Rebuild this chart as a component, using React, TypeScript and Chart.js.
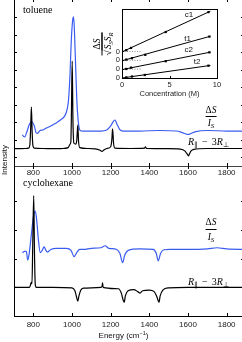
import React, { useEffect, useRef } from 'react';
import { Chart, registerables } from 'chart.js';
Chart.register(...registerables);

// ---------- data ----------
const xTickValues = [800, 1000, 1200, 1400, 1600, 1800];
const topYTickValues = [0, 1, 2, 3, 4, 5, 6, 7, 8];
const bottomYTickValues = [0, 1, 2, 3];

// toluene, R|| - 3R_perp (black)
const tolBlackE = [700, 760, 775, 782, 786, 790, 794, 798, 805, 850, 900, 950, 980, 990, 994, 997, 1001, 1005, 1010, 1020, 1025, 1030, 1034, 1040, 1080, 1120, 1145, 1155, 1165, 1180, 1200, 1206, 1210, 1215, 1222, 1300, 1375, 1380, 1385, 1500, 1560, 1585, 1593, 1598, 1603, 1608, 1615, 1630, 1700, 1800, 1900];
const tolBlackV = [0.49, 0.5, 0.52, 0.7, 1.6, 2.87, 1.4, 0.65, 0.52, 0.5, 0.49, 0.5, 0.55, 0.75, 0.87, 2.5, 5.5, 2.0, 0.8, 0.75, 1.0, 1.84, 0.9, 0.55, 0.5, 0.48, 0.4, 0.33, 0.42, 0.5, 0.6, 1.0, 1.62, 0.8, 0.52, 0.5, 0.52, 0.6, 0.5, 0.49, 0.47, 0.35, 0.22, 0.15, 0.08, 0.2, 0.35, 0.45, 0.5, 0.5, 0.5];
// toluene, dS/I_S (blue)
const tolBlueE = [743, 755, 768, 780, 793, 805, 815, 822, 835, 850, 867, 890, 918, 940, 965, 975, 982, 990, 996, 1003, 1008, 1012, 1016, 1021, 1025, 1031, 1037, 1045, 1055, 1100, 1150, 1180, 1200, 1215, 1223, 1232, 1249, 1270, 1350, 1450, 1540, 1570, 1590, 1601, 1615, 1640, 1700, 1800, 1900];
const tolBlueV = [1.27, 1.16, 1.5, 1.9, 2.03, 1.79, 1.39, 1.37, 1.53, 1.56, 1.67, 1.79, 1.96, 2.13, 2.41, 2.75, 3.27, 4.8, 6.6, 7.8, 8.03, 7.4, 6.13, 4.5, 3.27, 2.2, 1.67, 1.52, 1.5, 1.5, 1.5, 1.56, 1.79, 2.07, 2.13, 1.9, 1.56, 1.5, 1.5, 1.53, 1.5, 1.41, 1.33, 1.3, 1.36, 1.47, 1.53, 1.5, 1.5];

// cyclohexane, R|| - 3R_perp (black)
const cycBlackE = [700, 780, 786, 789, 793, 797, 802, 806, 810, 815, 900, 1000, 1015, 1024, 1030, 1036, 1045, 1060, 1150, 1156, 1158, 1161, 1240, 1255, 1265, 1270, 1276, 1290, 1320, 1340, 1352, 1365, 1400, 1425, 1440, 1450, 1456, 1470, 1500, 1600, 1900];
const cycBlackV = [0.0, 0.0, 0.1, 0.17, 0.12, 1.5, 3.2, 1.2, 0.1, 0.0, 0.0, -0.02, -0.12, -0.35, -0.48, -0.3, -0.1, -0.03, 0.0, 0.05, 0.16, 0.0, -0.05, -0.2, -0.45, -0.52, -0.3, -0.12, -0.08, -0.15, -0.2, -0.12, -0.1, -0.15, -0.35, -0.52, -0.3, -0.1, -0.02, 0.0, 0.0];
// cyclohexane, dS/I_S (blue)
const cycBlueE = [743, 755, 764, 771, 778, 790, 800, 810, 818, 826, 836, 846, 856, 865, 874, 890, 920, 970, 995, 1011, 1025, 1040, 1060, 1100, 1150, 1171, 1190, 1231, 1248, 1262, 1272, 1291, 1351, 1420, 1436, 1446, 1458, 1475, 1505, 1600, 1700, 1750, 1800, 1900];
const cycBlueV = [1.21, 1.25, 1.25, 0.95, 1.15, 1.85, 2.44, 2.66, 2.3, 1.67, 1.21, 1.29, 1.41, 1.29, 1.23, 1.32, 1.36, 1.36, 1.29, 1.07, 1.22, 1.32, 1.32, 1.36, 1.38, 1.45, 1.36, 1.32, 1.18, 0.86, 1.11, 1.29, 1.34, 1.32, 1.18, 0.92, 1.18, 1.31, 1.32, 1.32, 1.34, 1.38, 1.34, 1.32];

// inset: concentration series (offset stacked)
const insetXTickValues = [0, 5, 10];
const insetYTickValues = [0, 1, 2, 3];
const concC1 = [0.45, 0.95, 4.6, 9.1];
const sigC1 = [3.15, 3.4, 5.2, 7.45];
const concT1 = [0.45, 1.05, 2.45, 9.2];
const sigT1 = [2.08, 2.24, 2.62, 4.68];
const concC2 = [0.45, 0.95, 4.6, 9.2];
const sigC2 = [1.02, 1.17, 1.9, 2.9];
const concT2 = [0.45, 1.05, 2.4, 9.1];
const sigT2 = [0.07, 0.17, 0.34, 1.39];
const fitX = [0, 9.3];
const fitC1 = [2.95, 7.55];
const fitT1 = [1.95, 4.72];
const fitC2 = [0.95, 2.92];
const fitT2 = [0.0, 1.42];
const zeroLevels = [1, 2, 3];
const zeroLineX = [0, 2];

// ---------- helpers ----------
const SERIF = '"Liberation Serif", "Times New Roman", serif';
const SANS = '"Liberation Sans", Arial, sans-serif';
const BLUE = '#3a5cf0';

const pts = (xs: number[], ys: number[]) => xs.map((x, i) => ({ x, y: ys[i] }));

const decor = {
  id: 'decor',
  afterDraw(chart: any, _args: any, opts: any) {
    const { ctx, chartArea: a, scales } = chart;
    const t = opts.ticks || {};
    ctx.save();
    ctx.strokeStyle = opts.color || '#000';
    ctx.lineWidth = 1;
    ctx.beginPath();
    const xs = scales.x, ys = scales.y;
    xs.ticks.forEach((tk: any) => {
      const p = Math.round(xs.getPixelForValue(tk.value)) + 0.5;
      if (t.bottom) { ctx.moveTo(p, a.bottom); ctx.lineTo(p, a.bottom - t.bottom); }
      if (t.top) { ctx.moveTo(p, a.top); ctx.lineTo(p, a.top + t.top); }
    });
    ys.ticks.forEach((tk: any) => {
      const p = Math.round(ys.getPixelForValue(tk.value)) + 0.5;
      if (t.left) { ctx.moveTo(a.left, p); ctx.lineTo(a.left + t.left, p); }
      if (t.right) { ctx.moveTo(a.right, p); ctx.lineTo(a.right - t.right, p); }
    });
    ctx.stroke();
    if (opts.frame) {
      ctx.strokeRect(Math.round(a.left) + 0.5, Math.round(a.top) + 0.5, Math.round(a.right - a.left), Math.round(a.bottom - a.top));
    }
    ctx.restore();
  },
};

function mainConfig(black: { e: number[]; v: number[] }, blue: { e: number[]; v: number[] }, o: any): any {
  return {
    type: 'line',
    data: {
      datasets: [
        { data: pts(black.e, black.v), borderColor: '#000', borderWidth: 1.2, pointRadius: 0, cubicInterpolationMode: 'monotone' },
        { data: pts(blue.e, blue.v), borderColor: BLUE, borderWidth: 1.2, pointRadius: 0, cubicInterpolationMode: 'monotone' },
      ],
    },
    options: {
      responsive: false,
      animation: false,
      devicePixelRatio: 1,
      layout: { padding: { top: o.padTop, right: 4, left: 0, bottom: 0 } },
      scales: {
        x: {
          type: 'linear', min: 700, max: 1900,
          grid: { display: false, drawTicks: false },
          border: { display: true, color: o.xBorderColor, width: 1 },
          ticks: { font: { family: SANS, size: 8 }, color: '#222', padding: o.labelPad, maxRotation: 0, autoSkip: false, callback: (v: any) => String(v) },
          afterBuildTicks: (s: any) => { s.ticks = xTickValues.map((value) => ({ value })); },
          afterFit: (s: any) => { s.height = o.xHeight; },
        },
        y: {
          type: 'linear', min: o.yMin, max: o.yMax,
          grid: { display: false, drawTicks: false },
          border: { display: true, color: '#000', width: 1 },
          ticks: { display: false },
          afterBuildTicks: (s: any) => { s.ticks = o.yTicks.map((value: number) => ({ value })); },
          afterFit: (s: any) => { s.width = 14; },
        },
      },
      plugins: {
        legend: { display: false },
        tooltip: { enabled: false },
        decor: { ticks: { bottom: 3, top: 3, left: 3, right: 5 } },
      },
    },
    plugins: [decor],
  };
}

function insetConfig(): any {
  const fitDs = (ys: number[]) => ({ data: pts(fitX, ys), borderColor: '#000', borderWidth: 1, pointRadius: 0 });
  const ptDs = (xs: number[], ys: number[]) => ({ data: pts(xs, ys), showLine: false, pointStyle: 'rect', pointRadius: 1.6, backgroundColor: '#000', borderColor: '#000', borderWidth: 0 });
  const zeroDs = zeroLevels.map((lv) => ({ data: pts(zeroLineX, zeroLineX.map(() => lv)), borderColor: '#888', borderWidth: 1, borderDash: [1, 1.5], pointRadius: 0 }));
  return {
    type: 'line',
    data: {
      datasets: [
        ptDs(concC1, sigC1), ptDs(concT1, sigT1), ptDs(concC2, sigC2), ptDs(concT2, sigT2),
        fitDs(fitC1), fitDs(fitT1), fitDs(fitC2), fitDs(fitT2),
        ...zeroDs,
      ],
    },
    options: {
      responsive: false,
      animation: false,
      devicePixelRatio: 1,
      layout: { padding: { top: 9, right: 13, left: 0, bottom: 0 } },
      scales: {
        x: {
          type: 'linear', min: 0, max: 10,
          grid: { display: false, drawTicks: false },
          border: { display: false },
          ticks: { font: { family: SANS, size: 7.5 }, color: '#222', padding: 2, maxRotation: 0, autoSkip: false, callback: (v: any) => String(v) },
          title: { display: true, text: 'Concentration (M)', font: { family: SANS, size: 7.5 }, color: '#222', padding: { top: 0, bottom: 2 } },
          afterBuildTicks: (s: any) => { s.ticks = insetXTickValues.map((value) => ({ value })); },
          afterFit: (s: any) => { s.height = 22; },
        },
        y: {
          type: 'linear', min: 0, max: 7.8,
          grid: { display: false, drawTicks: false },
          border: { display: false },
          ticks: { font: { family: SANS, size: 7.5 }, color: '#222', padding: 2, callback: () => '0' },
          afterBuildTicks: (s: any) => { s.ticks = insetYTickValues.map((value) => ({ value })); },
          afterFit: (s: any) => { s.width = 12; },
        },
      },
      plugins: {
        legend: { display: false },
        tooltip: { enabled: false },
        decor: { frame: true, ticks: { bottom: 2, left: 2 } },
      },
    },
    plugins: [decor],
  };
}

function ChartCanvas({ make, left, top, width, height }: any) {
  const ref = useRef<HTMLCanvasElement>(null);
  useEffect(() => {
    const c = new Chart(ref.current as HTMLCanvasElement, make());
    return () => c.destroy();
  }, []);
  return <canvas ref={ref} width={width} height={height} style={{ position: 'absolute', left, top, width, height, display: 'block' }} />;
}

const subStyle: React.CSSProperties = { fontSize: '7px', verticalAlign: '-2px', lineHeight: 0 };
const smallSub: React.CSSProperties = { fontSize: '6.5px', verticalAlign: '-2px', lineHeight: 0 };

function Frac({ cx, top, gap }: { cx: number; top: number; gap: number }) {
  return (
    <div style={{ position: 'absolute', left: cx, top, transform: 'translateX(-50%)', display: 'flex', flexDirection: 'column', alignItems: 'center', font: `9.5px ${SERIF}`, lineHeight: '10px', whiteSpace: 'nowrap' }}>
      <div>Δ<i>S</i></div>
      <div style={{ alignSelf: 'stretch', borderTop: '1px solid #000', margin: `${gap}px 0` }} />
      <div><i>I</i><sub style={subStyle}><i>S</i></sub></div>
    </div>
  );
}

function RLabel({ left, top }: { left: number; top: number }) {
  return (
    <div style={{ position: 'absolute', left, top, font: `10px ${SERIF}`, lineHeight: '10px', whiteSpace: 'nowrap' }}>
      <i>R</i><sub style={subStyle}>∥</sub><span style={{ margin: '0 4px' }}>−</span>3<i>R</i><sub style={subStyle}>⊥</sub>
    </div>
  );
}

function Text({ cx, cy, children, font, rotate }: any) {
  return (
    <div style={{ position: 'absolute', left: cx, top: cy, transform: `translate(-50%,-50%)${rotate ? ' rotate(-90deg)' : ''}`, font, lineHeight: 1, whiteSpace: 'nowrap', color: '#111' }}>
      {children}
    </div>
  );
}

export default function App() {
  return (
    <div style={{ position: 'fixed', left: 0, top: 0, width: 242, height: 342, overflow: 'hidden', background: '#fff' }}>
      <ChartCanvas
        left={0} top={-6} width={250} height={191}
        make={() => mainConfig({ e: tolBlackE, v: tolBlackV }, { e: tolBlueE, v: tolBlueV }, { padTop: 5, xHeight: 19, labelPad: 2, yMin: -0.5, yMax: 9.05, yTicks: topYTickValues, xBorderColor: '#444' })}
      />
      <ChartCanvas
        left={0} top={160} width={250} height={182}
        make={() => mainConfig({ e: cycBlackE, v: cycBlackV }, { e: cycBlueE, v: cycBlueV }, { padTop: 6, xHeight: 26, labelPad: 4, yMin: -1, yMax: 4.23, yTicks: bottomYTickValues, xBorderColor: '#000' })}
      />
      <ChartCanvas left={110} top={0} width={120} height={100} make={insetConfig} />

      <div style={{ position: 'absolute', left: 23, top: 5, font: `10px ${SERIF}`, lineHeight: '10px' }}>toluene</div>
      <div style={{ position: 'absolute', left: 23, top: 178, font: `10px ${SERIF}`, lineHeight: '10px' }}>cyclohexane</div>

      <Frac cx={211} top={105} gap={1} />
      <RLabel left={188} top={137} />
      <Frac cx={211} top={216.5} gap={2} />
      <RLabel left={188} top={276.5} />

      <Text cx={5} cy={160} font={`8px ${SANS}`} rotate>Intensity</Text>
      <Text cx={123.5} cy={336} font={`8px ${SANS}`}>Energy (cm<sup style={{ fontSize: '5.5px', verticalAlign: '3px', lineHeight: 0 }}>−1</sup>)</Text>

      {/* inset y title */}
      <div style={{ position: 'absolute', left: 102, top: 44, transform: 'translate(-50%,-50%) rotate(-90deg)', display: 'flex', flexDirection: 'column', alignItems: 'center', font: `9.5px ${SERIF}`, lineHeight: '10px', whiteSpace: 'nowrap' }}>
        <div>Δ<i>S</i></div>
        <div style={{ alignSelf: 'stretch', borderTop: '1px solid #000' }} />
        <div>√<span style={{ borderTop: '1px solid #000', paddingLeft: 1 }}><i>S</i><sub style={smallSub}><i>S</i></sub><i>S</i><sub style={smallSub}><i>R</i></sub></span></div>
      </div>
      <Text cx={189} cy={15} font={`8px ${SANS}`}>c1</Text>
      <Text cx={187.5} cy={38.5} font={`8px ${SANS}`}>t1</Text>
      <Text cx={188.7} cy={50} font={`8px ${SANS}`}>c2</Text>
      <Text cx={197} cy={62} font={`8px ${SANS}`}>t2</Text>
    </div>
  );
}
